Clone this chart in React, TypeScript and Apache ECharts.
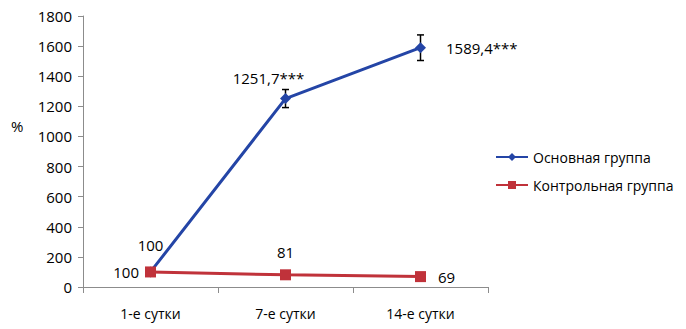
import React, { useEffect, useRef } from "react";
import * as echarts from "echarts";

const categories = ["1-е сутки", "7-е сутки", "14-е сутки"];
const mainValues = [100, 1251.7, 1589.4];
const mainErrors = [0, 60, 85];
const mainLabels = ["100", "1251,7***", "1589,4***"];
const controlValues = [100, 81, 69];
const controlLabels = ["100", "81", "69"];
const yTicks = { min: 0, max: 1800, interval: 200 };
const yAxisTitle = "%";

const FONT = "Open Sans";

export default function App() {
  const ref = useRef<HTMLDivElement>(null);
  useEffect(() => {
    const chart = echarts.init(ref.current!, null, { renderer: "svg" });
    const mainLabelCfg = [
      { position: "top", distance: 14, offset: [0, 0] },
      { position: "top", distance: 8, offset: [-17, 0] },
      { position: "right", distance: 20, offset: [0, 0] },
    ];
    const ctrlLabelCfg = [
      { position: "left", distance: 6, offset: [0, 0] },
      { position: "top", distance: 10, offset: [0, 0] },
      { position: "right", distance: 12, offset: [0, 0] },
    ];
    const option: any = {
      animation: false,
      textStyle: { fontFamily: FONT },
      grid: { left: 83, top: 16, right: 198, bottom: 42, containLabel: false },
      graphic: [
        {
          type: "text",
          left: 11,
          top: 118,
          style: { text: yAxisTitle, fill: "#000", fontSize: 15, fontFamily: FONT },
        },
      ],
      legend: {
        orient: "vertical",
        left: 490,
        top: 145,
        itemGap: 14,
        itemWidth: 32,
        itemHeight: 10,
        textStyle: { fontFamily: FONT, fontSize: 14, color: "#000" },
        data: ["Основная группа", "Контрольная группа"],
      },
      xAxis: {
        type: "category",
        data: categories,
        boundaryGap: true,
        axisLine: { lineStyle: { color: "#8c8c8c", width: 1 } },
        axisTick: { show: true, length: 6, lineStyle: { color: "#8c8c8c" } },
        axisLabel: { color: "#000", fontSize: 14, fontFamily: FONT, margin: 19 },
      },
      yAxis: {
        type: "value",
        min: yTicks.min,
        max: yTicks.max,
        interval: yTicks.interval,
        axisLine: { show: true, lineStyle: { color: "#8c8c8c", width: 1 } },
        axisTick: { show: true, length: 5, lineStyle: { color: "#8c8c8c" } },
        splitLine: { show: false },
        axisLabel: { color: "#000", fontSize: 15, fontFamily: FONT, margin: 11, formatter: (v: number) => String(v) },
      },
      series: [
        {
          name: "Основная группа",
          type: "line",
          data: mainValues.map((v, i) => ({
            value: v,
            label: {
              show: true,
              formatter: mainLabels[i],
              position: mainLabelCfg[i].position,
              distance: mainLabelCfg[i].distance,
              offset: mainLabelCfg[i].offset,
              color: "#000",
              fontSize: 15,
              fontFamily: FONT,
            },
          })),
          symbol: "diamond",
          symbolSize: 11,
          showSymbol: true,
          itemStyle: { color: "#2445a6" },
          lineStyle: { color: "#2445a6", width: 3 },
          z: 3,
        },
        {
          name: "Контрольная группа",
          type: "line",
          data: controlValues.map((v, i) => ({
            value: v,
            label: {
              show: true,
              formatter: controlLabels[i],
              position: ctrlLabelCfg[i].position,
              distance: ctrlLabelCfg[i].distance,
              offset: ctrlLabelCfg[i].offset,
              color: "#000",
              fontSize: 15,
              fontFamily: FONT,
            },
          })),
          symbol: "rect",
          symbolSize: 11,
          itemStyle: { color: "#c0323a" },
          lineStyle: { color: "#c0323a", width: 3 },
          z: 4,
        },
        {
          type: "custom",
          name: "err",
          data: mainValues.map((v, i) => [i, v - mainErrors[i], v + mainErrors[i]]),
          renderItem: (params: any, api: any) => {
            const i = api.value(0);
            const lo = api.coord([i, api.value(1)]);
            const hi = api.coord([i, api.value(2)]);
            if (hi[1] === lo[1]) return { type: "group", children: [] };
            const w = 3.5;
            const st = { stroke: "#000", lineWidth: 1.5 };
            return {
              type: "group",
              children: [
                { type: "line", shape: { x1: lo[0], y1: lo[1], x2: hi[0], y2: hi[1] }, style: st },
                { type: "line", shape: { x1: lo[0] - w, y1: lo[1], x2: lo[0] + w, y2: lo[1] }, style: st },
                { type: "line", shape: { x1: hi[0] - w, y1: hi[1], x2: hi[0] + w, y2: hi[1] }, style: st },
              ],
            };
          },
          z: 2,
          silent: true,
        },
      ],
    };
    chart.setOption(option);
    return () => chart.dispose();
  }, []);
  return <div ref={ref} style={{ width: 686, height: 329, position: "absolute", left: 0, top: 0, background: "#fff" }} />;
}
